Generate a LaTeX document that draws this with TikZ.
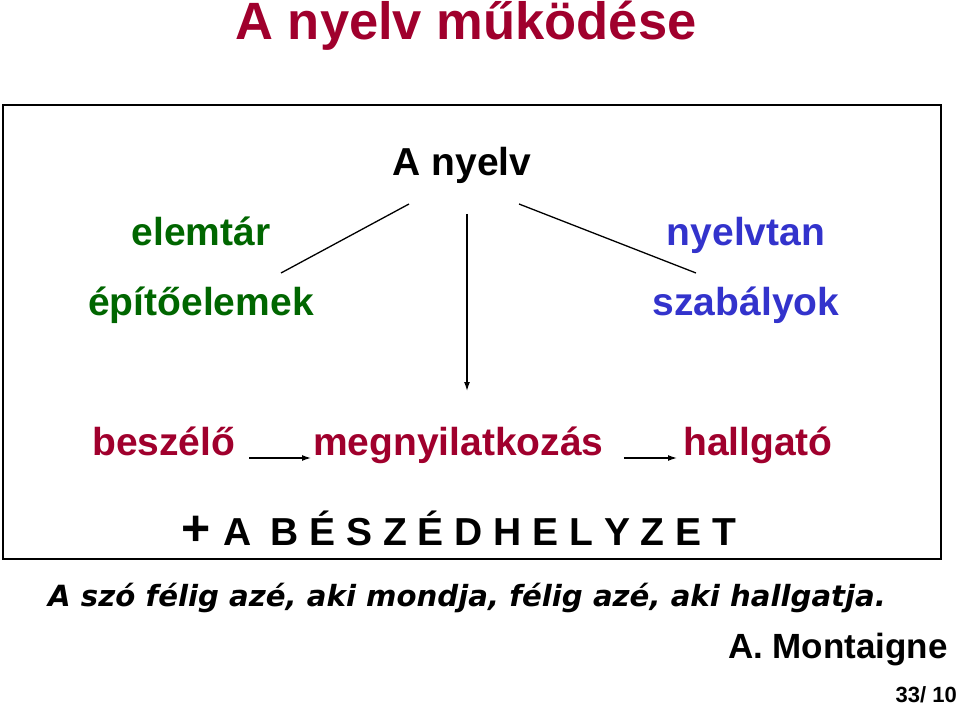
\documentclass[tikz,border=0pt]{standalone}
\usepackage{fontspec}
\setmainfont{Liberation Sans}
\newfontfamily\quotefont{DejaVu Sans}
\usetikzlibrary{arrows.meta,calc}

\definecolor{titlered}{RGB}{160,0,45}
\definecolor{partgreen}{RGB}{0,102,0}
\definecolor{ruleblue}{RGB}{51,51,204}

\begin{document}
\begin{tikzpicture}[x=1pt, y=-1pt, >={Latex[length=9pt,width=6pt]},
  txt/.style={inner sep=0pt, anchor=base, font=\bfseries\fontsize{39}{40}\selectfont},
  link/.style={line width=1.3pt}]

\useasboundingbox (0,0) rectangle (960,708);
\draw[line width=2pt] (3,105) rectangle (941,559);

\node[txt, titlered, font=\bfseries\fontsize{52.5}{53}\selectfont] (title) at (466,40) {A nyelv működése};

\node[txt] (nyelv) at (462,176) {A nyelv};
\node[txt, partgreen] (elemtar) at (201,246) {elemtár};
\node[txt, partgreen] (epito) at (201,316) {építőelemek};
\node[txt, ruleblue] (nyelvtan) at (746,246) {nyelvtan};
\node[txt, ruleblue] (szabaly) at (746,316) {szabályok};

% lines from "A nyelv"
\coordinate (lt) at (409,204);
\coordinate (lb) at (281,273);
\coordinate (mt) at (467,214);
\coordinate (mb) at (467,391);
\coordinate (rt) at (519,204);
\coordinate (rb) at (696,273);
\draw[link] (lt) -- (lb);
\draw[link, ->] (mt) -- (mb);
\draw[link] (rt) -- (rb);

\node[txt, titlered, anchor=base west] (beszelo) at (92,455) {beszélő};
\node[txt, titlered, anchor=base west] (megnyil) at (313,455) {megnyilatkozás};
\node[txt, titlered, anchor=base west] (hallgato) at (683,455) {hallgató};
\draw[link, ->] ([xshift=14pt, yshift=-3pt]beszelo.base east) -- ([xshift=-2pt, yshift=-3pt]megnyil.base west);
\draw[link, ->] ([xshift=20pt, yshift=-3pt]megnyil.base east) -- ([xshift=-6pt, yshift=-3pt]hallgato.base west);

\node[txt, anchor=base west, font=\bfseries\fontsize{50}{50}\selectfont] (plus) at (181,545) {+};
\node[txt, anchor=base west] (helyzet) at (223,545) {A\hspace{19pt}B É S Z É D H E L Y Z E T};

\node[txt, anchor=base west, font=\quotefont\bfseries\itshape\fontsize{29.2}{30}\selectfont] (quote) at (48,606) {A szó félig azé, aki mondja, félig azé, aki hallgatja.};
\node[txt, anchor=base east, font=\bfseries\fontsize{35}{35}\selectfont] (author) at (948,658) {A. Montaigne};
\node[txt, anchor=base east, font=\bfseries\fontsize{22}{22}\selectfont] (page) at (957,702) {33/ 10};

\end{tikzpicture}
\end{document}
